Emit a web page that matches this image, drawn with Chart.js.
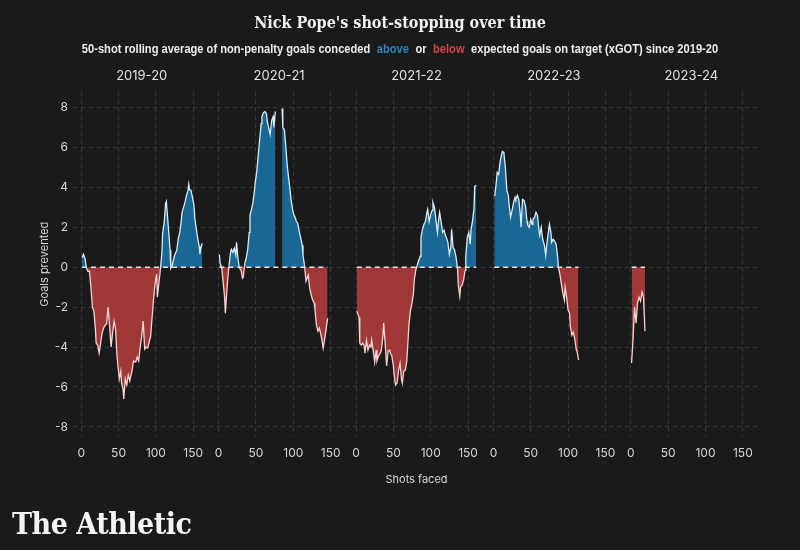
<!DOCTYPE html>
<html>
<head>
<meta charset="utf-8">
<script src="https://cdn.jsdelivr.net/npm/chart.js@4.4.1/dist/chart.umd.min.js"></script>
<style>
  html, body { margin: 0; padding: 0; background: #1a1a1a; }
  #wrap { position: relative; width: 800px; height: 550px; overflow: hidden; background: #1a1a1a; }
  #chart { position: absolute; left: 0; top: 0; }
  .title { position: absolute; left: 0; top: 11px; width: 800px; text-align: center; color: #f2f2f2;
    font-family: "DejaVu Serif"; font-stretch: condensed; font-weight: bold; font-size: 16px; line-height: 24px; }
  .subtitle { position: absolute; left: 0; top: 40px; width: 800px; text-align: center; color: #ececec;
    font-family: "Liberation Sans"; font-weight: bold; font-size: 13px; line-height: 18px;
    transform: scaleX(0.855); transform-origin: 400px 0; white-space: nowrap; }
  .subtitle .above { color: #2b86bd; margin: 0 4px; }
  .subtitle .below { color: #d2474b; margin: 0 4px; }
  .logo { position: absolute; left: 12px; top: 505px; color: #f4f4f4;
    font-family: "DejaVu Serif"; font-stretch: condensed; font-weight: bold; font-size: 30px; line-height: 38px; letter-spacing: -0.5px; }
</style>
</head>
<body>
<div id="wrap">
  <canvas id="chart" width="800" height="550"></canvas>
  <div class="title">Nick Pope's shot-stopping over time</div>
  <div class="subtitle">50-shot rolling average of non-penalty goals conceded <span class="above">above</span> or <span class="below">below</span> expected goals on target (xGOT) since 2019-20</div>
  <div class="logo">The Athletic</div>
</div>
<script>
const seasons = ['2019-20', '2020-21', '2021-22', '2022-23', '2023-24'];
const xTicks = [0, 50, 100, 150];
const yTicks = [-8, -6, -4, -2, 0, 2, 4, 6, 8];

// shots faced / goals prevented, season by season
const shots1920 = [1,3,5,7,9,11,13,15,17,19,20,22,24,26,28,30,32,34,36,38,40,42,44,46,48,51,53,54,56,57,59,61,63,65,68,70,73,75,77,79,81,83,85,87,89,91,93,94,96,98,99,101,102,104,106,108,109,111,113,114,117,119,120,122,124,125,128,130,132,134,135,137,139,141,143,144,145,147,149,151,152,154,156,158,159,160,162];
const goals1920 = [0.48,0.65,0.45,-0.05,-0.2,-0.2,-1.0,-2.0,-2.2,-3.1,-3.8,-3.9,-4.3,-3.8,-3.3,-3.05,-2.9,-2.85,-2.0,-2.95,-4.0,-3.3,-2.7,-3.1,-4.5,-5.6,-5.2,-5.8,-6.1,-6.6,-5.6,-5.9,-5.4,-5.7,-5.2,-4.7,-4.75,-4.5,-4.7,-4.0,-3.45,-2.7,-4.1,-4.0,-4.05,-3.75,-3.45,-2.95,-2.0,-1.15,-0.8,-0.35,-1.5,-0.8,-0.15,0.7,1.7,2.2,3.2,3.3,1.85,0.85,-0.05,0.1,0.45,0.6,0.85,1.45,1.75,2.35,2.75,3.0,3.25,3.6,3.85,4.15,3.9,3.85,3.5,3.1,2.5,1.95,1.45,1.05,0.65,0.95,1.2];

const shots2021 = [1,2,4,6,8,9,10,12,14,16,17,19,21,23,24,26,28,30,32,33,35,37,39,41,42,44,46,48,49,51,53,55,57,58,60,62,64,65,67,69,71,73,74,76,80,85,86,88,90,92,94,96,97,99,101,103,104,106,108,110,112,113,115,117,119,120,122,124,126,128,129,131,133,135,137,138,140,142,144,146];
const goals2021 = [0.63,0.2,0.0,-0.7,-1.5,-2.3,-1.75,-0.7,0.1,0.75,0.9,0.75,0.95,0.6,1.25,0.4,-0.05,-0.15,-0.55,-0.5,0.2,0.45,0.9,1.75,2.6,2.9,3.25,3.85,4.25,4.75,5.6,6.4,7.2,7.55,7.75,7.8,7.7,7.35,7.0,6.65,7.35,7.55,7.0,7.8,null,7.95,7.0,6.9,6.05,5.05,4.4,3.75,3.4,2.9,2.6,2.45,2.3,2.2,1.8,1.45,1.1,0.6,0.1,-0.7,-0.5,-0.4,-1.05,-1.4,-1.65,-1.8,-2.1,-2.9,-3.2,-3.05,-3.4,-3.55,-4.05,-3.6,-3.1,-2.55];

const shots2122 = [1,2,4,5,7,9,11,12,14,16,18,20,21,23,25,27,28,30,32,34,36,37,39,41,43,45,46,48,50,52,53,55,57,59,61,62,64,66,68,70,71,73,75,77,78,80,82,84,86,87,89,91,93,95,96,98,100,102,103,105,107,109,111,112,114,116,118,120,121,123,125,127,128,130,132,134,136,137,139,140,142,144,146,147,149,151,153,154,156,158,159,161];
const goals2122 = [-2.2,-2.3,-2.5,-3.8,-3.9,-3.8,-3.95,-4.3,-3.65,-4.15,-3.9,-4.0,-3.65,-4.15,-4.75,-4.15,-4.7,-4.45,-4.35,-4.15,-3.45,-2.8,-3.8,-4.95,-4.2,-4.15,-4.3,-4.45,-4.95,-5.7,-5.9,-5.8,-5.15,-4.8,-5.65,-5.8,-5.2,-5.15,-4.7,-3.45,-2.8,-2.15,-1.8,-1.3,-0.65,-0.15,0.1,0.35,0.55,1.5,1.9,2.15,2.3,2.75,2.9,2.3,2.65,2.85,3.25,3.0,2.4,1.75,2.5,2.75,2.25,1.75,1.85,1.55,1.5,1.25,0.65,1.0,1.9,1.0,0.85,0.5,-0.1,-0.9,-1.45,-1.0,-0.9,-0.65,-0.15,0.55,1.5,1.75,1.15,1.9,2.3,2.95,4.05,4.1];

const shots2223 = [1,2,4,5,7,9,11,12,14,16,18,20,21,23,25,27,29,30,32,34,36,37,39,41,43,45,46,48,50,52,53,55,57,59,61,62,64,66,68,70,71,73,75,77,78,80,82,84,86,87,89,91,93,95,96,98,100,102,103,105,107,109,111,112,114];
const goals2223 = [3.6,3.65,4.3,4.75,4.65,5.3,5.65,5.8,5.75,5.0,3.85,3.6,3.15,2.5,2.85,3.25,3.5,3.4,3.6,3.4,2.65,2.0,3.4,3.35,3.05,2.3,2.1,2.0,2.4,2.15,2.4,2.5,2.75,2.6,1.85,1.6,2.0,1.4,1.15,0.6,1.0,1.6,2.15,1.75,1.25,1.4,1.3,1.15,0.5,0.0,-0.35,-0.85,-1.3,-1.65,-1.0,-1.5,-2.15,-2.3,-2.95,-3.4,-3.25,-3.6,-4.15,-4.2,-4.65];

const shots2324 = [1,3,5,7,9,11,13,15,17,19];
const goals2324 = [-4.8,-3.6,-2.0,-2.8,-1.8,-1.5,-1.7,-1.25,-1.5,-3.2];

const allShots = [shots1920, shots2021, shots2122, shots2223, shots2324];
const allGoals = [goals1920, goals2021, goals2122, goals2223, goals2324];

const blueFill = '#1b6794';
const redFill = '#a13838';
const blueLine = '#d6edf8';
const redLine = '#f7d2d2';
const gridColor = '#393939';
const textColor = '#d6d6d6';

const datasets = [];
seasons.forEach((s, i) => {
  const xs = allShots[i];
  const pts = xs.map((x, j) => ({ x: x, y: allGoals[i][j] }));
  datasets.push({
    label: s,
    data: pts,
    xAxisID: 'x' + i,
    yAxisID: 'y',
    borderWidth: 1.3,
    pointRadius: 0,
    tension: 0,
    order: 1,
    fill: { target: 'origin', above: blueFill, below: redFill },
    borderColor: blueLine,
    segment: {
      borderColor: ctx => (ctx.p0.parsed.y + ctx.p1.parsed.y) >= 0 ? blueLine : redLine
    }
  });
  // dashed zero line over the span of shots faced
  datasets.push({
    label: s + ' zero',
    data: [{ x: xs[0], y: 0 }, { x: xs[xs.length - 1], y: 0 }],
    xAxisID: 'x' + i,
    yAxisID: 'y',
    borderColor: '#e6e6e6',
    borderWidth: 1.5,
    borderDash: [5, 4],
    pointRadius: 0,
    fill: false,
    order: 0
  });
});

const scales = {
  y: {
    min: -8.5,
    max: 8.8,
    afterBuildTicks: sc => { sc.ticks = yTicks.map(v => ({ value: v })); },
    afterFit: sc => { sc.width = 39; },
    ticks: { color: textColor, font: { family: 'Inter', size: 12 }, padding: 5 },
    grid: { color: gridColor, drawTicks: false },
    border: { display: false, dash: [4, 4] },
    title: { display: true, text: 'Goals prevented', color: textColor, font: { family: 'Inter', size: 11 }, padding: { top: 4, bottom: 4 } }
  }
};
seasons.forEach((s, i) => {
  scales['x' + i] = {
    type: 'linear',
    position: 'bottom',
    stack: 'shots',
    stackWeight: 1,
    min: -11,
    max: 173,
    afterBuildTicks: sc => { sc.ticks = xTicks.map(v => ({ value: v })); },
    ticks: { color: textColor, font: { family: 'Inter', size: 12 }, padding: 9, maxRotation: 0, autoSkip: false },
    grid: { color: gridColor, drawTicks: false },
    border: { display: false, dash: [4, 4] },
    title: { display: i === 2, text: 'Shots faced', color: textColor, font: { family: 'Inter', size: 11 }, padding: { top: 4, bottom: 4 } }
  };
});
// top boxes are laid out in reverse order, so add the season headers last to first
for (let i = seasons.length - 1; i >= 0; i--) {
  scales['s' + i] = {
    type: 'linear',
    position: 'top',
    stack: 'season',
    stackWeight: 1,
    ticks: { display: false },
    grid: { display: false, drawTicks: false },
    border: { display: false },
    title: { display: true, text: seasons[i], color: '#e2e2e2', font: { family: 'Inter', size: 13 }, padding: { top: 4, bottom: 8 } }
  };
}

new Chart(document.getElementById('chart'), {
  type: 'line',
  data: { datasets: datasets },
  options: {
    responsive: false,
    animation: false,
    layout: { padding: { left: 34, right: 40, top: 64, bottom: 68 } },
    plugins: { legend: { display: false }, tooltip: { enabled: false } },
    scales: scales
  }
});
</script>
</body>
</html>
